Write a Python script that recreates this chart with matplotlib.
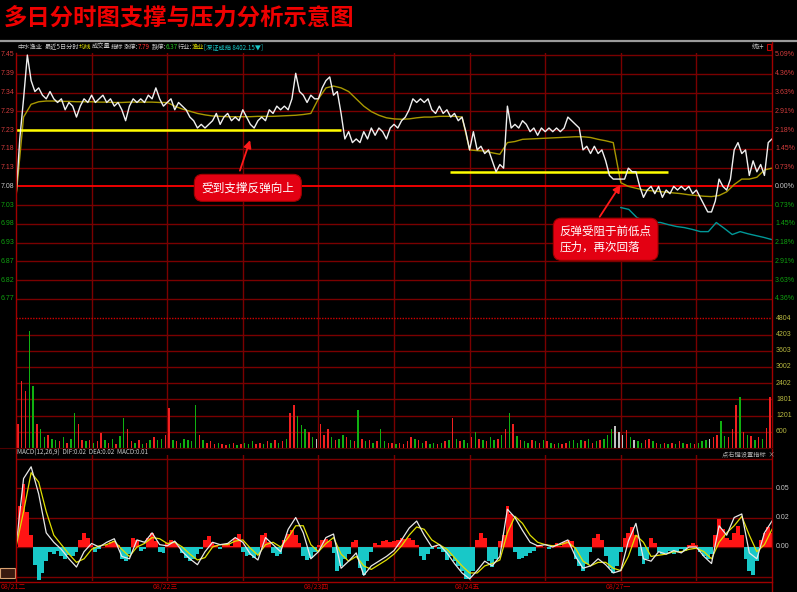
import matplotlib
matplotlib.use("Agg")
import matplotlib.pyplot as plt
import numpy as np
from matplotlib.lines import Line2D
from matplotlib.patches import Rectangle

plt.rcParams["font.family"] = ["Noto Sans CJK SC", "DejaVu Sans"]

# ---------------------------------------------------------------------------
# data (5 trading days x 240 minutes)
# ---------------------------------------------------------------------------
PREV_CLOSE = 7.08
STEP = 0.05145                      # price per grid row (0.73 %)
DAYS = ["08/21二", "08/22三", "08/23四", "08/24五", "08/27一"]

PRICE_LABELS = ["7.45", "7.39", "7.34", "7.29", "7.23", "7.18", "7.13",
                "7.08", "7.03", "6.98", "6.93", "6.87", "6.82", "6.77"]
PCT_LABELS = ["5.09%", "4.36%", "3.63%", "2.91%", "2.18%", "1.45%", "0.73%",
              "0.00%", "0.73%", "1.45%", "2.18%", "2.91%", "3.63%", "4.36%"]
VOL_LABELS = ["600", "1201", "1801", "2402", "3002", "3603", "4203", "4804"]
VOL_STEP = 600.5
MACD_LABELS = ["0.05", "0.02", "0.00"]
MACD_LEVELS = [0.05, 0.025, 0.0]

# close price every 6 minutes (201 points)
PRICE = [
    7.05, 7.21, 7.32, 7.44, 7.37, 7.34, 7.35, 7.33, 7.32, 7.34, 7.32, 7.31, 7.32, 7.29, 7.31, 7.30, 7.27, 7.30, 7.32, 7.31,
    7.33, 7.31, 7.32, 7.33, 7.31, 7.32, 7.30, 7.31, 7.29, 7.26, 7.30, 7.32, 7.31, 7.32, 7.31, 7.33, 7.32, 7.35, 7.32, 7.30,
    7.31, 7.32, 7.29, 7.31, 7.30, 7.29, 7.27, 7.26, 7.24, 7.25, 7.24, 7.25, 7.26, 7.28, 7.25, 7.27, 7.28, 7.26, 7.27, 7.26,
    7.29, 7.27, 7.25, 7.24, 7.26, 7.27, 7.26, 7.29, 7.28, 7.30, 7.29, 7.30, 7.29, 7.32, 7.39, 7.34, 7.33, 7.31, 7.33, 7.32,
    7.32, 7.35, 7.37, 7.38, 7.33, 7.34, 7.28, 7.21, 7.23, 7.20, 7.21, 7.20, 7.23, 7.21, 7.24, 7.22, 7.24, 7.23, 7.21, 7.24,
    7.25, 7.24, 7.26, 7.27, 7.29, 7.32, 7.31, 7.32, 7.31, 7.32, 7.29, 7.28, 7.30, 7.28, 7.29, 7.27, 7.28, 7.26, 7.27, 7.23,
    7.18, 7.23, 7.18, 7.19, 7.17, 7.18, 7.15, 7.12, 7.14, 7.13, 7.30, 7.24, 7.25, 7.24, 7.26, 7.25, 7.23, 7.24, 7.22, 7.24,
    7.23, 7.24, 7.23, 7.24, 7.23, 7.24, 7.27, 7.26, 7.25, 7.24, 7.18, 7.19, 7.17, 7.19, 7.17, 7.18, 7.15, 7.11, 7.10, 7.10,
    7.10, 7.10, 7.13, 7.12, 7.12, 7.08, 7.05, 7.07, 7.08, 7.06, 7.08, 7.05, 7.07, 7.06, 7.08, 7.07, 7.08, 7.07, 7.08, 7.06,
    7.07, 7.05, 7.03, 7.01, 7.01, 7.04, 7.10, 7.08, 7.07, 7.10, 7.18, 7.20, 7.17, 7.18, 7.11, 7.15, 7.12, 7.14, 7.11, 7.20,
    7.21,
]

# average price line every 12 minutes (101 points)
AVG = [
    7.05, 7.27, 7.305, 7.312, 7.314, 7.314, 7.313, 7.313, 7.312, 7.312, 7.312, 7.311, 7.311, 7.310, 7.310, 7.311, 7.311, 7.311, 7.311, 7.310,
    7.31, 7.30, 7.292, 7.286, 7.28, 7.276, 7.273, 7.272, 7.271, 7.271, 7.271, 7.271, 7.272, 7.272, 7.272, 7.273, 7.274, 7.275, 7.277, 7.28,
    7.32, 7.35, 7.355, 7.35, 7.34, 7.32, 7.30, 7.285, 7.275, 7.268, 7.265, 7.264, 7.265, 7.268, 7.27, 7.27, 7.272, 7.272, 7.272, 7.27,
    7.18, 7.178, 7.177, 7.172, 7.168, 7.20, 7.203, 7.209, 7.21, 7.211, 7.212, 7.213, 7.214, 7.215, 7.216, 7.216, 7.214, 7.209, 7.205, 7.20,
    7.09, 7.08, 7.075, 7.07, 7.068, 7.066, 7.064, 7.062, 7.06, 7.057, 7.055, 7.053, 7.052, 7.055, 7.065, 7.085, 7.10, 7.10, 7.105, 7.125,
    7.13,
]

# index overlay on the last day (20 points)
INDEX_LINE = [7.022, 7.017, 6.995, 6.984, 6.981, 6.981, 6.975, 6.970, 6.967, 6.962,
              6.956, 6.956, 6.981, 6.965, 6.948, 6.956, 6.950, 6.945, 6.940, 6.934]

# volume every 6 minutes (200 bars)
VOLUME = [
    900, 2500, 2100, 4340, 2300, 900, 700, 400, 500, 350, 300, 250, 400, 200, 350, 1300, 900, 300, 250, 300,
    200, 250, 550, 300, 200, 350, 150, 450, 1100, 700, 250, 200, 300, 150, 200, 300, 400, 300, 350, 500,
    1500, 300, 250, 200, 350, 300, 250, 1580, 500, 300, 200, 250, 150, 200, 150, 100, 150, 200, 100, 150,
    200, 150, 250, 150, 200, 150, 250, 200, 300, 200, 250, 350, 1300, 1600, 1200, 850, 700, 600, 400, 350,
    900, 500, 700, 400, 300, 350, 500, 400, 300, 250, 1400, 350, 250, 300, 200, 250, 700, 250, 200, 200,
    150, 200, 150, 250, 400, 350, 300, 200, 250, 150, 200, 150, 200, 250, 300, 1100, 350, 250, 300, 200,
    400, 600, 350, 300, 250, 400, 300, 350, 500, 700, 1300, 900, 450, 300, 250, 200, 300, 250, 200, 300,
    250, 200, 150, 200, 150, 200, 250, 300, 200, 300, 250, 350, 200, 250, 300, 350, 500, 700, 800, 600,
    500, 650, 400, 300, 250, 200, 300, 350, 250, 200, 150, 200, 150, 200, 150, 250, 200, 150, 200, 150,
    200, 250, 300, 350, 400, 500, 1000, 450, 400, 700, 1600, 1900, 600, 500, 450, 300, 400, 350, 750, 1900,
]

# MACD: DIF / DEA every 12 minutes (101 points), histogram every 6 minutes (201)
DIF = [
    0.000, 0.058, 0.068, 0.045, 0.012, 0.004, -0.002, -0.010, -0.017, -0.004, 0.003, 0.000, 0.004, 0.007, -0.008, -0.010, 0.006, 0.004, 0.012, 0.002,
    0.001, 0.005, -0.004, -0.010, -0.015, -0.004, 0.004, 0.002, 0.003, 0.008, 0.004, -0.006, -0.011, 0.008, 0.002, -0.004, 0.015, 0.025, 0.012, -0.010,
    -0.004, 0.008, 0.011, -0.018, -0.012, -0.005, -0.024, -0.016, -0.012, -0.008, -0.003, 0.006, 0.016, 0.022, 0.010, 0.000, 0.002, -0.005, -0.014, -0.022,
    -0.027, -0.020, -0.012, -0.016, -0.008, 0.032, 0.025, 0.014, 0.004, 0.001, 0.002, 0.000, 0.003, 0.006, -0.008, -0.018, -0.016, -0.010, -0.015, -0.022,
    -0.020, 0.005, 0.020, -0.010, -0.012, -0.004, -0.006, -0.003, -0.005, 0.000, 0.000, -0.008, -0.014, 0.018, 0.010, 0.025, 0.028, -0.005, -0.010, 0.012,
    0.022,
]
DEA = [
    0.000, 0.030, 0.063, 0.055, 0.030, 0.010, 0.002, -0.006, -0.013, -0.010, -0.002, 0.001, 0.002, 0.005, -0.002, -0.008, 0.000, 0.003, 0.008, 0.007,
    0.003, 0.004, 0.000, -0.006, -0.011, -0.009, 0.000, 0.002, 0.002, 0.005, 0.006, -0.001, -0.007, 0.002, 0.004, 0.000, 0.008, 0.018, 0.018, 0.002,
    -0.004, 0.003, 0.008, -0.006, -0.012, -0.008, -0.016, -0.019, -0.015, -0.011, -0.006, 0.001, 0.010, 0.017, 0.015, 0.006, 0.002, -0.002, -0.009, -0.016,
    -0.022, -0.022, -0.016, -0.014, -0.011, 0.012, 0.026, 0.020, 0.010, 0.004, 0.002, 0.001, 0.002, 0.004, -0.001, -0.012, -0.016, -0.013, -0.013, -0.018,
    -0.020, -0.008, 0.010, 0.004, -0.008, -0.007, -0.006, -0.004, -0.004, -0.002, -0.001, -0.004, -0.010, 0.004, 0.012, 0.018, 0.026, 0.010, -0.004, 0.002,
    0.015,
]
HIST = [
    0.000, 0.035, 0.053, 0.030, 0.010, -0.015, -0.028, -0.022, -0.012, -0.004, -0.006, -0.003, -0.008, -0.010, -0.007, -0.008, -0.004, 0.006, 0.012, 0.008,
    0.002, -0.004, -0.002, 0.000, 0.002, 0.004, 0.005, 0.002, -0.010, -0.012, -0.006, 0.008, 0.006, -0.003, -0.002, 0.008, 0.012, 0.005, -0.004, -0.005,
    0.003, 0.006, 0.004, 0.001, -0.005, -0.009, -0.012, -0.010, -0.006, -0.002, 0.006, 0.009, 0.004, 0.002, -0.002, 0.002, 0.003, 0.001, 0.008, 0.011,
    -0.004, -0.008, -0.007, -0.009, -0.006, 0.010, 0.012, 0.004, -0.005, -0.008, -0.006, 0.006, 0.011, 0.014, 0.010, 0.003, -0.008, -0.011, -0.009, -0.004,
    0.002, 0.006, 0.007, 0.005, -0.005, -0.020, -0.016, -0.010, -0.006, 0.004, 0.006, -0.018, -0.024, -0.012, -0.004, 0.003, 0.002, 0.005, 0.006, 0.004,
    0.005, 0.006, 0.008, 0.007, 0.008, 0.006, 0.002, -0.008, -0.011, -0.006, -0.002, 0.001, -0.002, -0.004, -0.011, -0.008, -0.012, -0.016, -0.020, -0.027,
    -0.026, -0.020, 0.006, 0.012, 0.008, -0.012, -0.017, -0.010, 0.005, 0.010, 0.035, 0.028, -0.004, -0.010, -0.009, -0.008, -0.005, -0.003, 0.002, 0.001,
    0.000, -0.002, 0.002, 0.003, 0.001, 0.004, 0.006, 0.005, -0.010, -0.016, -0.020, -0.014, -0.004, 0.008, 0.011, 0.006, -0.008, -0.018, -0.022, -0.016,
    -0.004, 0.008, 0.012, 0.017, 0.010, -0.008, -0.014, -0.010, 0.008, 0.003, -0.004, -0.006, -0.005, -0.003, -0.006, -0.004, -0.002, -0.003, 0.002, 0.003,
    0.002, -0.004, -0.008, -0.010, -0.006, 0.010, 0.024, 0.015, 0.008, 0.006, 0.012, 0.018, 0.010, -0.010, -0.020, -0.024, -0.012, 0.006, 0.012, 0.017,
    0.012,
]

# support / resistance lines: (start minute, end minute, price)
SR_LINES = [(0, 516, 7.234), (689, 1035, 7.12)]

# ---------------------------------------------------------------------------
# colours
# ---------------------------------------------------------------------------
BG = "#000000"
GRID = "#7a0000"
RED = "#ff1a1a"
UP_TXT = "#d23c3c"
DN_TXT = "#10a010"
GREY = "#c8c8c8"
CYAN = "#18c8c8"

W, H = 797, 592
fig = plt.figure(figsize=(W / 100, H / 100), dpi=100, facecolor=BG)


def rect(l, t, r, b):
    return [l / W, 1 - b / H, (r - l) / W, (b - t) / H]


def fig_line(x0, y0, x1, y1, **kw):
    fig.add_artist(Line2D([x0 / W, x1 / W], [1 - y0 / H, 1 - y1 / H],
                          transform=fig.transFigure, **kw))


ax_p = fig.add_axes(rect(16, 53, 772, 308))
ax_v = fig.add_axes(rect(16, 308, 772, 448))
ax_m = fig.add_axes(rect(16, 455, 772, 581))
for ax in (ax_p, ax_v, ax_m):
    ax.set_facecolor(BG)
    ax.set_xlim(0, 1200)
    ax.set_xticks([])
    ax.set_yticks([])
    for s in ax.spines.values():
        s.set_visible(False)
    for m in range(120, 1200, 120):
        ax.axvline(m, color=GRID, lw=1.0, zorder=0)

# ── price pane ──────────────────────────────────────────────────────────────
levels = PREV_CLOSE + STEP * np.arange(7, -7, -1)
px = (levels[0] - levels[-1]) / 244.0
ax_p.set_ylim(levels[-1] - 9 * px, levels[0] + 2 * px)

ytf = ax_p.get_yaxis_transform()
for i, lv in enumerate(levels):
    if i == 7:
        ax_p.axhline(lv, color="#ff0000", lw=1.3, zorder=1)
        c = GREY
    else:
        ax_p.axhline(lv, color=GRID, lw=1.0, zorder=0)
        c = UP_TXT if i < 7 else DN_TXT
    ax_p.text(-15 / 756, lv, PRICE_LABELS[i], transform=ytf, color=c,
              fontsize=5, family="Liberation Sans", ha="left", va="center")
    ax_p.text(1 + 3 / 756, lv, PCT_LABELS[i], transform=ytf, color=c,
              fontsize=5, family="Liberation Sans", ha="left", va="center")

for m0, m1, lv in SR_LINES:
    ax_p.hlines(lv, m0, m1, color="#ffff00", lw=1.8, zorder=3)

t_price = np.arange(len(PRICE)) * 6
t_avg = np.arange(len(AVG)) * 12
t_idx = np.linspace(960, 1200, len(INDEX_LINE))
ax_p.plot(t_idx, INDEX_LINE, color="#009898", lw=1.0, zorder=2)
ax_p.plot(t_avg, AVG, color="#a89800", lw=1.0, zorder=2)
ax_p.plot(t_price, PRICE, color="#f0f0f0", lw=1.0, zorder=4)

# annotations
ax_p.annotate("", xy=(373, 7.214), xytext=(354, 7.116),
              arrowprops=dict(arrowstyle="-|>", color=RED, lw=1.3,
                              mutation_scale=11), zorder=6)
ax_p.text(368, 7.076, "受到支撑反弹向上", ha="center", va="center",
          color="white", fontsize=8.4, zorder=7,
          bbox=dict(boxstyle="round,pad=0.6,rounding_size=0.7",
                    fc="#e30012", ec="#a00000", lw=0.8))
ax_p.annotate("", xy=(962, 7.091), xytext=(924, 6.990),
              arrowprops=dict(arrowstyle="-|>", color=RED, lw=1.3,
                              mutation_scale=11), zorder=6)
ax_p.text(936, 6.935, "反弹受阻于前低点\n压力，再次回落", ha="center",
          va="center", multialignment="left", linespacing=1.35,
          color="white", fontsize=8.3, zorder=7,
          bbox=dict(boxstyle="round,pad=0.55,rounding_size=0.7",
                    fc="#e30012", ec="#a00000", lw=0.8))

# ── volume pane ─────────────────────────────────────────────────────────────
ax_v.set_ylim(0, 140 * VOL_STEP / 16.2)
vtf = ax_v.get_yaxis_transform()
for i, lab in enumerate(VOL_LABELS):
    lv = VOL_STEP * (i + 1)
    if i == len(VOL_LABELS) - 1:
        ax_v.axhline(lv, color="#d00000", lw=1.0, ls=(0, (1, 1)), zorder=0)
    else:
        ax_v.axhline(lv, color=GRID, lw=1.0, zorder=0)
    ax_v.text(1 + 4 / 756, lv, lab, transform=vtf, color="#b8b840",
              fontsize=5, family="Liberation Sans", ha="left", va="center")

vol_colors = []
for k in range(len(VOLUME)):
    d = PRICE[k + 1] - PRICE[k]
    vol_colors.append("#f02020" if d > 0 else ("#10b010" if d < 0 else "#c0c0c0"))
ax_v.bar(np.arange(len(VOLUME)) * 6 + 3, VOLUME, width=2.3,
         color=vol_colors, lw=0, zorder=2)

# ── MACD pane ───────────────────────────────────────────────────────────────
mpx = 0.025 / 29.5
ax_m.set_ylim(-34 * mpx, 92 * mpx)
for lv in (-0.025, 0.0, 0.025, 0.05, 0.075):
    ax_m.axhline(lv, color=GRID, lw=1.0, zorder=0)
mtf = ax_m.get_yaxis_transform()
for lab, lv in zip(MACD_LABELS, MACD_LEVELS):
    ax_m.text(1 + 4 / 756, lv, lab, transform=mtf, color=GREY,
              fontsize=5, family="Liberation Sans", ha="left", va="center")

t_hist = np.arange(len(HIST)) * 6
hist_colors = ["#ff1414" if v > 0 else CYAN for v in HIST]
ax_m.bar(t_hist, HIST, width=6, color=hist_colors, lw=0, zorder=2)
ax_m.plot(t_avg, DEA, color="#e0e000", lw=0.9, zorder=3)
ax_m.plot(t_avg, DIF, color="#e8e8e8", lw=0.9, zorder=4)

# ── frame, title, header texts ─────────────────────────────────────────────
fig_line(0, 41, W, 41, color="#9a9a9a", lw=1.6)
fig_line(16, 53, 16, 582, color="#a00000", lw=1.0)
fig_line(772, 42, 772, H, color="#a00000", lw=1.0)
fig_line(0, 582, 772, 582, color="#a00000", lw=1.0)
fig_line(0, 448, 772, 448, color="#500000", lw=0.8)

fig.text(4 / W, 1 - 19 / H, "多日分时图支撑与压力分析示意图", color="#ee0000",
         fontsize=16.8, fontweight="bold", ha="left", va="center")

header = [("中水渔业", 17, GREY), ("最近5日分时", 45, GREY), ("均线", 79, "#e0e000"),
          ("成交量", 92, GREY), ("指标", 111, GREY), ("涨停:", 124, GREY),
          ("7.79", 138, "#ff3030"), ("跌停:", 152, GREY), ("6.37", 166, "#20c020"),
          ("行业:", 178, GREY), ("渔业", 192, "#e0e000"),
          ("[深证成指 8402.15▼]", 204, CYAN)]
for txt, x, c in header:
    fig.text(x / W, 1 - 47 / H, txt, color=c, fontsize=4.5, ha="left", va="center")
fig.text(752 / W, 1 - 47 / H, "统计", color=GREY, fontsize=4.5, ha="left", va="center")
fig.add_artist(Rectangle((767 / W, 1 - 50 / H), 4 / W, 6 / H, transform=fig.transFigure,
                         fill=False, ec="#c00000", lw=0.8))

fig.text(17 / W, 1 - 453 / H, "MACD(12,26,9)  DIF:0.02  DEA:0.02  MACD:0.01",
         color=GREY, fontsize=4.5, ha="left", va="center")
fig.text(722 / W, 1 - 455 / H, "点右键设置指标  ×", color="#b0b0b0",
         fontsize=4.5, ha="left", va="center")

fig.add_artist(Rectangle((0, 1 - 578 / H), 15 / W, 10 / H, transform=fig.transFigure,
                         fc="#3a1a10", ec="#d8a070", lw=0.8))

for i, d in enumerate(DAYS):
    x = max(1, 16 + i * 151.2 - 15)
    fig.text(x / W, 1 - 587 / H, d, color="#d00000", fontsize=5,
             ha="left", va="center")

fig.savefig("out.png", dpi=100, facecolor=BG)
